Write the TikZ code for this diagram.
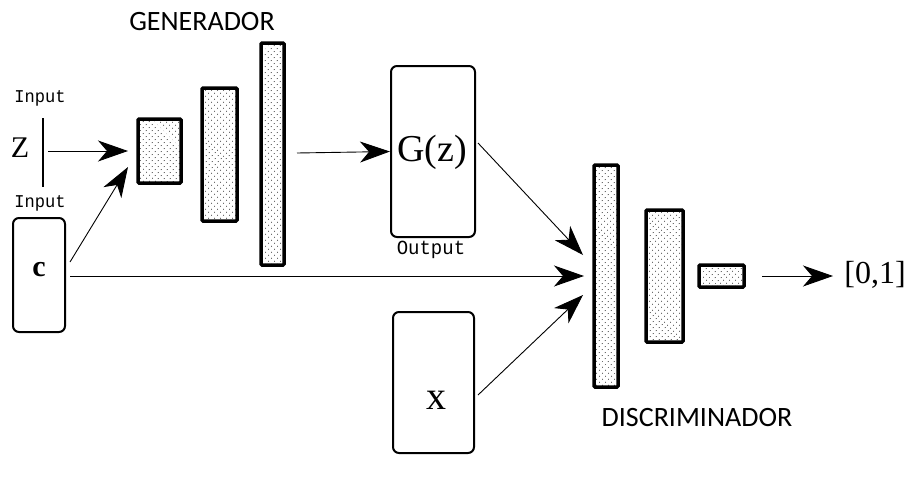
\documentclass[tikz,border=0pt]{standalone}
\usepackage{fontspec}
\setmainfont{Liberation Serif}
\newfontfamily\labelfont{Liberation Mono}
\newfontfamily\titlefont{Carlito}
\usetikzlibrary{arrows.meta,patterns.meta}
\begin{document}
\begin{tikzpicture}[x=1pt,y=-1pt,
  layer/.style={draw=black,line width=3.5pt,rounded corners=1pt,
    pattern={Dots[distance=4pt,radius=0.55pt,angle=45]},pattern color=black},
  databox/.style={draw=black,line width=2pt,rounded corners=6pt},
  conn/.style={line width=0.9pt,-{Stealth[length=30pt,width=21pt,inset=9pt]}},
  iolabel/.style={font=\labelfont\fontsize{18}{18}\selectfont,text=black,xscale=0.95},
  title/.style={font=\titlefont\fontsize{28}{28}\selectfont},
  sym/.style={font=\fontsize{30}{30}\selectfont}]
\useasboundingbox (0,0) rectangle (924,485);

% generator layers
\path[layer] (138,119) rectangle (181,183);
\path[layer] (202,88) rectangle (237,221);
\path[layer] (261,43) rectangle (284,265);
\coordinate (g1in) at (128,151);
\coordinate (g1inlow) at (128,167);
\coordinate (g3out) at (297,153);

% discriminator layers
\path[layer] (594,165) rectangle (618,387);
\path[layer] (646,210) rectangle (683,342);
\path[layer] (699,265) rectangle (744,287);
\coordinate (d1a) at (583,255);
\coordinate (d1b) at (584,276);
\coordinate (d1c) at (583,295);
\coordinate (d3out) at (762,276);

% data boxes
\node[databox,minimum width=52pt,minimum height=114pt] (c) at (39,275) {};
\node[sym,font=\bfseries\fontsize{30}{30}\selectfont] at (39,270) {c};
\node[databox,minimum width=84pt,minimum height=171pt] (gz) at (433,151.5) {};
\node[sym,font=\fontsize{38}{38}\selectfont] at (432,152) {G(z)};
\node[databox,minimum width=81pt,minimum height=141pt] (x) at (433.5,382.5) {};
\node[sym,font=\fontsize{40}{40}\selectfont] at (436,400) {x};

% noise input
\node[sym] (z) at (20,148) {Z};
\draw[line width=1.8pt] (43,118) -- (43,187);
\coordinate (zstart) at (48,151);

% labels
\node[title] (gen) at (202,22) {GENERADOR};
\node[title] (dis) at (697,418) {DISCRIMINADOR};
\node[iolabel] (in1) at (40,98) {Input};
\node[iolabel] (in2) at (40,203) {Input};
\node[iolabel,font=\labelfont\fontsize{20}{20}\selectfont] (out) at (431,250) {Output};
\node[sym,font=\fontsize{32}{32}\selectfont] (res) at (875,275) {[0,1]};

% connectors
\draw[conn] (zstart) -- (g1in);
\draw[conn] (70,262) -- (g1inlow);
\draw[conn] (g3out) -- (gz.west);
\draw[conn] (478,143) -- (d1a);
\draw[conn] (70,276) -- (d1b);
\draw[conn] (478,395) -- (d1c);
\draw[conn] (d3out) -- (833,276);
\end{tikzpicture}
\end{document}
